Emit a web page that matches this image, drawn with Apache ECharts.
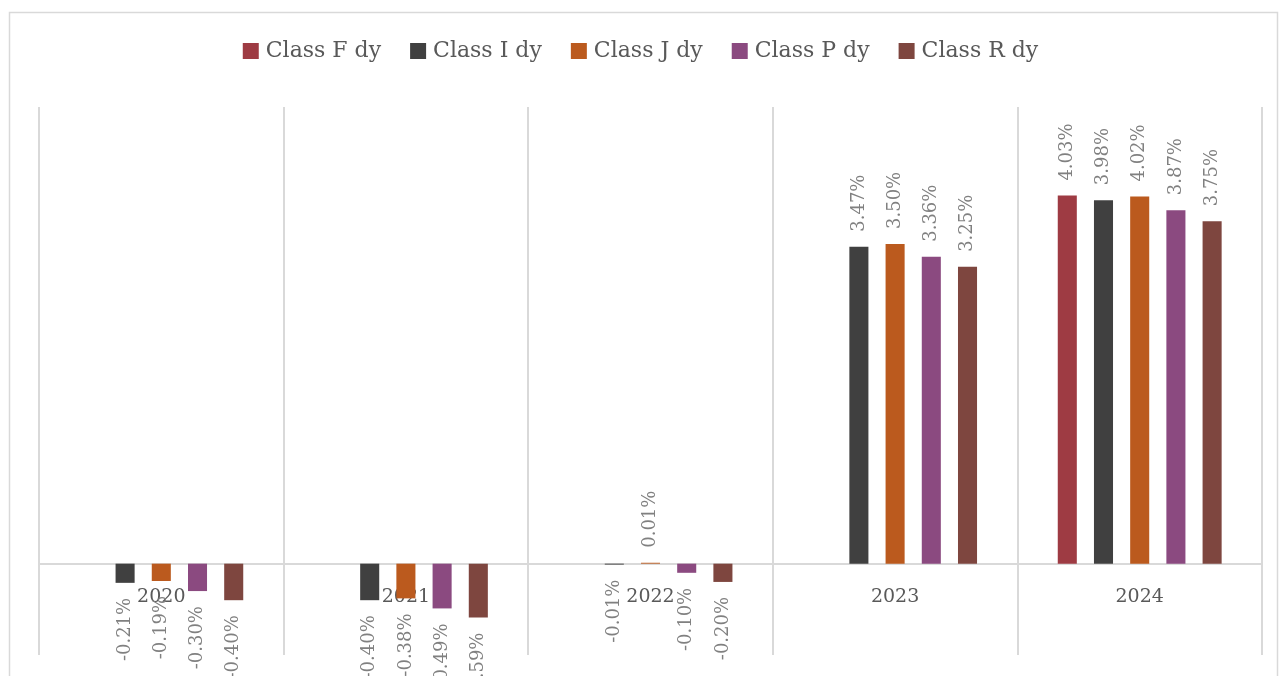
<!DOCTYPE html>
<html>
<head>
<meta charset="utf-8">
<script src="https://cdn.jsdelivr.net/npm/echarts@6/dist/echarts.min.js"></script>
<style>
  html, body { margin: 0; padding: 0; background: #fff; }
  #main { width: 1281px; height: 676px; }
</style>
</head>
<body>
<div id="main"></div>
<script>
// categories and values (percent)
var years = ['2020', '2021', '2022', '2023', '2024'];
var classF = [null, null, null, null, 4.03];
var classI = [-0.21, -0.40, -0.01, 3.47, 3.98];
var classJ = [-0.19, -0.38, 0.01, 3.50, 4.02];
var classP = [-0.30, -0.49, -0.10, 3.36, 3.87];
var classR = [-0.40, -0.59, -0.20, 3.25, 3.75];

var seriesNames = ['Class F dy', 'Class I dy', 'Class J dy', 'Class P dy', 'Class R dy'];
var seriesData = [classF, classI, classJ, classP, classR];
var colors = ['#9e3b43', '#404040', '#bb5a1e', '#8b4a80', '#7e463f'];

var serif = '"DejaVu Serif", "Liberation Serif", serif';

// label goes above positive bars, below negative ones
function toItems(arr) {
    return arr.map(function (v) {
        if (v === null) return null;
        var neg = v < 0;
        return {
            value: v,
            label: {
                position: neg ? 'bottom' : 'top',
                align: neg ? 'right' : 'left'
            }
        };
    });
}

var chart = echarts.init(document.getElementById('main'));
chart.setOption({
    backgroundColor: '#ffffff',
    animation: false,
    color: colors,
    graphic: [{
        type: 'rect',
        shape: { x: 9.5, y: 12.5, width: 1268, height: 700 },
        style: { fill: 'none', stroke: '#d9d9d9', lineWidth: 1.5 },
        silent: true
    }],
    legend: {
        data: seriesNames,
        top: 35,
        left: 'center',
        itemWidth: 16,
        itemHeight: 16,
        itemGap: 29,
        icon: 'rect',
        textStyle: { color: '#595959', fontSize: 22, fontFamily: serif, padding: [0, 0, 0, 2] }
    },
    grid: { left: 39, right: 19, top: 107, bottom: 21, outerBoundsMode: 'none', containLabel: false },
    xAxis: {
        type: 'category',
        data: years,
        offset: -91,
        axisTick: { show: false },
        axisLine: { onZero: false, lineStyle: { color: '#d9d9d9', width: 2 } },
        splitLine: { show: true, interval: 0, lineStyle: { color: '#d9d9d9', width: 2 } },
        axisLabel: { margin: 24, color: '#595959', fontSize: 19, fontFamily: serif }
    },
    yAxis: {
        type: 'value',
        min: -1,
        max: 5,
        interval: 1,
        show: false,
        splitLine: { show: false }
    },
    series: seriesNames.map(function (name, i) {
        return {
            name: name,
            type: 'bar',
            barGap: '90%',
            barCategoryGap: '33%',
            data: toItems(seriesData[i]),
            itemStyle: { color: colors[i] },
            label: {
                show: true,
                rotate: 90,
                distance: 15,
                verticalAlign: 'middle',
                color: '#808080',
                fontSize: 18,
                fontFamily: serif,
                formatter: function (p) { return p.value.toFixed(2) + '%'; }
            }
        };
    })
});
</script>
</body>
</html>
